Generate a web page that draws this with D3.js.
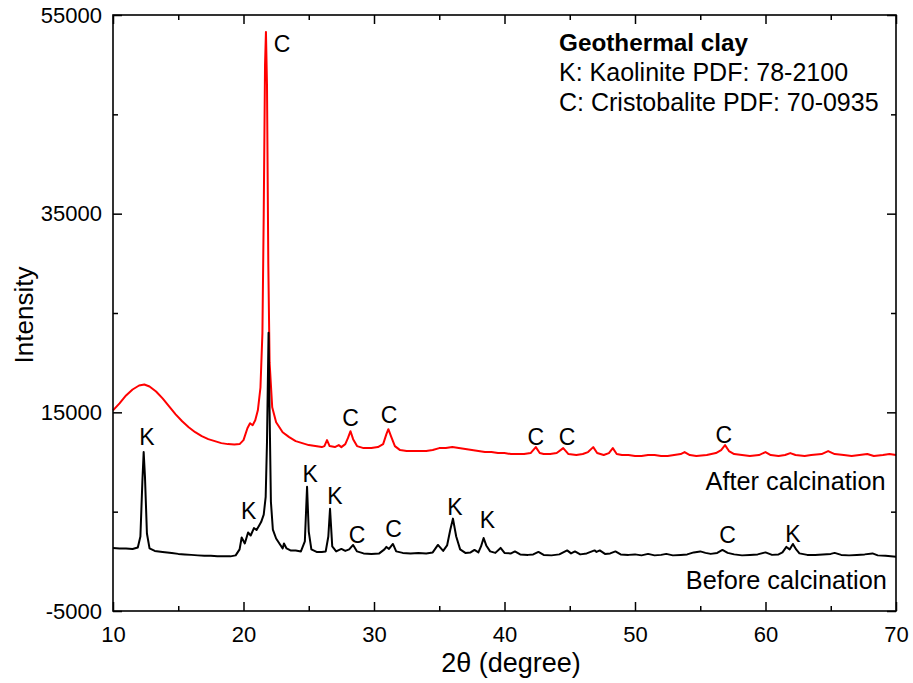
<!DOCTYPE html>
<html>
<head>
<meta charset="utf-8">
<script src="https://cdn.jsdelivr.net/npm/d3@7"></script>
<style>
  html, body { margin: 0; padding: 0; background: #fff; }
  svg text { font-family: "Liberation Sans", Arial, sans-serif; fill: #000; }
</style>
</head>
<body>
<svg id="chart" width="913" height="683"></svg>
<script>
// ---- Data ----
const redX = [10.0,10.5,11.0,11.5,12.0,12.4,12.8,13.3,13.8,14.3,14.8,15.3,15.8,16.3,16.8,17.3,17.8,18.3,18.8,19.3,19.7,20.0,20.3,20.5,20.7,20.9,21.1,21.3,21.45,21.55,21.65,21.72,21.8,21.9,22.0,22.2,22.5,23.0,23.5,24.0,24.5,25.0,25.5,26.0,26.2,26.4,26.6,27.0,27.3,27.5,27.8,28.0,28.2,28.4,28.7,29.2,29.8,30.3,30.7,30.95,31.1,31.3,31.6,32.0,32.5,33.0,33.5,34.0,34.5,35.0,35.5,36.0,36.5,37.0,37.5,38.0,38.5,39.0,39.5,40.0,40.5,41.0,41.5,42.0,42.4,42.7,43.0,43.5,44.0,44.5,44.9,45.5,46.0,46.4,46.8,47.1,47.6,48.0,48.3,48.6,49.0,49.5,50.0,50.5,51.0,51.5,52.0,52.5,53.0,53.5,53.8,54.2,54.7,55.5,56.2,56.6,56.9,57.2,57.6,58.2,58.8,59.5,60.0,60.4,61.0,61.5,61.9,62.3,63.0,63.5,64.3,64.8,65.3,66.0,66.6,67.2,67.8,68.3,69.0,69.5,70.0];
const redY = [15200,15900,16700,17300,17700,17800,17600,17100,16400,15600,14800,14100,13500,13000,12600,12300,12100,11900,11800,11750,11800,12200,13400,13900,13700,14200,15200,17500,23000,35000,50000,53300,48000,30000,20000,15500,14000,13000,12500,12100,11900,11700,11600,11500,11600,12200,11600,11500,11700,11500,11800,12400,13100,12300,11600,11400,11400,11500,11800,12800,13300,12600,11600,11200,11100,11100,11100,11100,11200,11400,11400,11500,11400,11300,11200,11100,11000,11000,10900,10900,10800,10800,10800,10900,11500,10900,10800,10800,10900,11400,10800,10700,10800,11000,11500,10900,10700,10900,11400,10800,10700,10700,10600,10600,10700,10700,10600,10600,10700,10800,11000,10700,10600,10700,10900,11200,11700,11100,10800,10700,10600,10700,11000,10700,10600,10700,10900,10700,10600,10700,10800,11100,10800,10700,10600,10700,10800,10600,10700,10800,10700];

const blackX = [10.0,10.5,11.0,11.5,11.9,12.1,12.25,12.35,12.45,12.6,12.8,13.2,13.8,14.5,15.0,15.5,16.0,16.5,17.0,17.5,18.0,18.5,19.0,19.4,19.7,19.86,20.1,20.35,20.55,20.8,21.0,21.2,21.35,21.55,21.7,21.8,21.92,22.0,22.1,22.25,22.5,22.8,23.0,23.1,23.3,23.6,24.0,24.4,24.7,24.87,25.0,25.2,25.6,26.0,26.3,26.5,26.63,26.8,27.1,27.5,27.8,28.1,28.4,28.7,29.2,29.8,30.4,30.8,30.95,31.15,31.45,31.7,32.2,32.8,33.4,34.0,34.5,34.9,35.3,35.6,35.85,36.05,36.3,36.6,37.0,37.4,37.7,38.0,38.2,38.4,38.6,38.9,39.3,39.7,40.0,40.5,40.8,41.2,41.8,42.2,42.6,43.0,43.6,44.2,44.8,45.1,45.4,45.8,46.3,46.9,47.05,47.3,47.7,48.1,48.5,48.9,49.5,50.0,50.5,51.0,51.5,52.0,52.4,52.9,53.5,54.0,54.5,55.0,55.4,55.8,56.3,56.7,57.1,57.6,58.2,58.8,59.4,60.0,60.5,61.0,61.3,61.6,61.85,62.1,62.35,62.6,63.2,63.8,64.4,65.0,65.3,65.8,66.4,67.0,67.6,68.2,68.6,69.2,69.6,70.0];
const blackY = [1350,1300,1300,1250,1400,2500,8000,11000,8500,2800,1300,1050,950,850,750,700,650,600,550,550,500,500,500,600,1200,2400,1800,2900,2600,3350,3150,3600,3950,4700,6500,12000,23000,15000,6000,3200,2300,1700,1300,1800,1300,1100,1100,1000,2000,7500,3000,1200,950,950,1000,2500,5300,1500,1000,1250,1050,1200,1650,1000,800,750,800,1200,1450,1250,1750,1000,850,800,850,800,900,1650,1050,1600,3200,4300,2500,1200,850,900,1150,900,1500,2350,1600,1000,850,1350,850,800,1000,700,650,700,950,650,600,700,1100,800,1000,700,800,1100,950,1100,750,800,1000,700,650,700,600,750,600,650,750,600,650,700,900,1000,850,750,850,1150,850,700,600,650,700,900,650,700,900,1450,1200,1750,1200,800,650,650,700,750,850,650,600,650,700,800,600,550,500,450];

const xTicksMajor = [10,20,30,40,50,60,70];
const xTicksMinor = [15,25,35,45,55,65];
const yTicksMajor = [-5000,15000,35000,55000];
const yTicksMinor = [5000,25000,45000];

// peak annotations: label, x (degree), y (intensity at baseline of letter)
const annLabels = ["C","C","C","C","C","C","K","K","K","K","C","C","K","K","C","K"];
const annX      = [22.95,28.2,31.15,42.4,44.8,56.8,12.6,20.4,25.1,27.0,28.7,31.5,36.2,38.7,57.1,62.1];
const annY      = [51300,13650,13900,11700,11700,11900,11700,4260,8000,5770,1850,2450,4660,3350,1850,1950];

const seriesNames = ["After calcination","Before calcination"];
const seriesLabelX = [69.2,69.3];
const seriesLabelY = [7180,-2800];

const legendTitle = "Geothermal clay";
const legendLines = ["K: Kaolinite PDF: 78-2100","C: Cristobalite PDF: 70-0935"];

// ---- Chart ----
const svg = d3.select("#chart");
const L = 113, R = 896, T = 15, B = 611;
const x = d3.scaleLinear().domain([10,70]).range([L,R]);
const y = d3.scaleLinear().domain([-5000,55000]).range([B,T]);

const line = d3.line().x(d => x(d[0])).y(d => y(d[1]));

svg.append("path")
  .datum(d3.zip(redX, redY))
  .attr("d", line).attr("fill","none").attr("stroke","#ff0000").attr("stroke-width",2).attr("stroke-linejoin","round");
svg.append("path")
  .datum(d3.zip(blackX, blackY))
  .attr("d", line).attr("fill","none").attr("stroke","#000").attr("stroke-width",2).attr("stroke-linejoin","round");

// axes
function styleAxis(g){
  g.select(".domain").remove();
  g.selectAll(".tick line").attr("stroke","#000").attr("stroke-width",1.5);
}
const fmt = d => String(d);
const bottomMajor = svg.append("g").attr("transform",`translate(0,${B})`)
  .call(d3.axisBottom(x).tickValues(xTicksMajor).tickSize(-9).tickFormat(fmt));
styleAxis(bottomMajor);
bottomMajor.selectAll("text").attr("font-size",22).attr("dy","0.71em").attr("y",15);
const bottomMinor = svg.append("g").attr("transform",`translate(0,${B})`)
  .call(d3.axisBottom(x).tickValues(xTicksMinor).tickSize(-5).tickFormat(""));
styleAxis(bottomMinor);
const topMajor = svg.append("g").attr("transform",`translate(0,${T})`)
  .call(d3.axisTop(x).tickValues(xTicksMajor).tickSize(-9).tickFormat(""));
styleAxis(topMajor);
const topMinor = svg.append("g").attr("transform",`translate(0,${T})`)
  .call(d3.axisTop(x).tickValues(xTicksMinor).tickSize(-5).tickFormat(""));
styleAxis(topMinor);

const leftMajor = svg.append("g").attr("transform",`translate(${L},0)`)
  .call(d3.axisLeft(y).tickValues(yTicksMajor).tickSize(-9).tickFormat(fmt));
styleAxis(leftMajor);
leftMajor.selectAll("text").attr("font-size",22).attr("x",-11);
const leftMinor = svg.append("g").attr("transform",`translate(${L},0)`)
  .call(d3.axisLeft(y).tickValues(yTicksMinor).tickSize(-5).tickFormat(""));
styleAxis(leftMinor);
const rightMajor = svg.append("g").attr("transform",`translate(${R},0)`)
  .call(d3.axisRight(y).tickValues(yTicksMajor).tickSize(-9).tickFormat(""));
styleAxis(rightMajor);
const rightMinor = svg.append("g").attr("transform",`translate(${R},0)`)
  .call(d3.axisRight(y).tickValues(yTicksMinor).tickSize(-5).tickFormat(""));
styleAxis(rightMinor);

// frame
svg.append("rect").attr("x",L).attr("y",T).attr("width",R-L).attr("height",B-T)
  .attr("fill","none").attr("stroke","#000").attr("stroke-width",1.6);

// axis titles
svg.append("text").attr("x",511).attr("y",672).attr("text-anchor","middle")
  .attr("font-size",27).text("2θ (degree)");
svg.append("text").attr("transform",`translate(33,${(T+B)/2+2}) rotate(-90)`).attr("text-anchor","middle")
  .attr("font-size",26).text("Intensity");

// peak annotations
svg.append("g").selectAll("text").data(d3.range(annLabels.length)).join("text")
  .attr("x", i => x(annX[i])).attr("y", i => y(annY[i]))
  .attr("text-anchor","middle").attr("font-size",23).text(i => annLabels[i]);

// series labels
svg.append("g").selectAll("text").data(d3.range(seriesNames.length)).join("text")
  .attr("x", i => x(seriesLabelX[i])).attr("y", i => y(seriesLabelY[i]))
  .attr("text-anchor","end").attr("font-size",25.3).text(i => seriesNames[i]);

// legend block
svg.append("text").attr("x",559).attr("y",51).attr("font-size",24.3).attr("font-weight","bold").text(legendTitle);
svg.append("g").selectAll("text").data(legendLines).join("text")
  .attr("x",559).attr("y",(d,i) => 81 + i*30).attr("font-size",25).text(d => d);
</script>
</body>
</html>
